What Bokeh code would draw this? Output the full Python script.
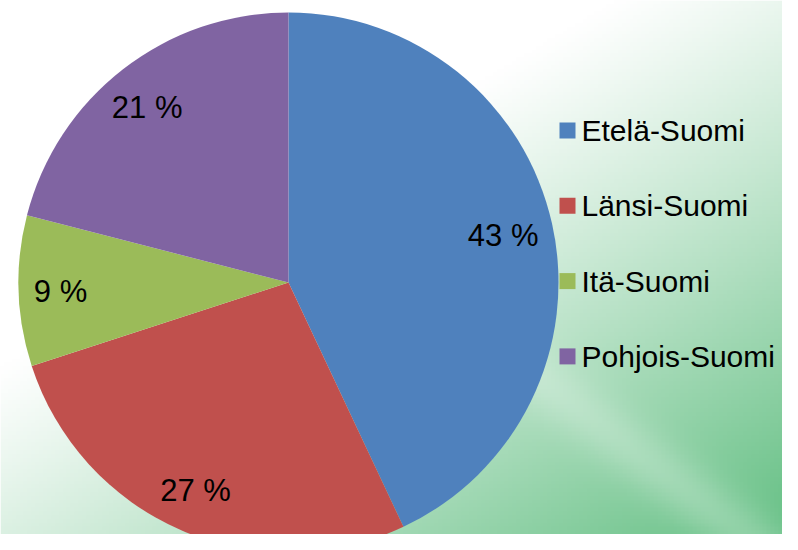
import numpy as np
from bokeh.plotting import figure
from bokeh.models import Range1d
from bokeh.core.properties import value
from bokeh.embed import file_html
from bokeh.resources import INLINE

categories = ["Etelä-Suomi", "Länsi-Suomi", "Itä-Suomi", "Pohjois-Suomi"]
shares = [43, 27, 9, 21]
labels = ["43 %", "27 %", "9 %", "21 %"]
colors = ["#4F81BD", "#C0504D", "#9BBB59", "#8064A2"]

W, H = 782, 534
p = figure(width=W, height=H, output_backend="svg", toolbar_location=None,
           x_range=Range1d(0, W), y_range=Range1d(0, H), min_border=0)
p.axis.visible = False
p.grid.visible = False
p.outline_line_color = None
p.background_fill_color = "white"
p.border_fill_color = "white"

# background gradient (decoration)
nx, ny = 200, 140
xs = np.linspace(0, 1, nx)
ys = np.linspace(0, 1, ny)  # 0 = bottom
X, Y = np.meshgrid(xs, ys)
t = X * 0.7 + (1 - Y) * 0.8 - 0.55
t = np.clip(t, 0, 1) ** 1.1
streak = np.exp(-((X - (1 - Y) * 0.9 - 0.05) ** 2) / 0.004) * 0.25
t = np.clip(t - streak * t, 0, 1)
t = np.maximum(t, np.clip((0.25 - Y) * 0.8, 0, 1) * 0.5)
g0 = np.array([255, 255, 255])
g1 = np.array([92, 188, 125])
img = np.zeros((ny, nx), dtype=np.uint32)
view = img.view(dtype=np.uint8).reshape((ny, nx, 4))
for k in range(3):
    view[:, :, k] = (g0[k] + (g1[k] - g0[k]) * t).astype(np.uint8)
view[:, :, 3] = 255
p.image_rgba(image=[img], x=0, y=0, dw=W, dh=H)

cx, cy, r = 288, H - 282, 270
total = sum(shares)
cum = np.cumsum([0] + shares[:-1]) / total
frac = np.array(shares) / total
start = np.pi / 2 - cum * 2 * np.pi
end = np.pi / 2 - (cum + frac) * 2 * np.pi
p.wedge(x=cx, y=cy, radius=r, start_angle=start, end_angle=end, direction="clock",
        fill_color=colors, line_color=None)

mid = (start + end) / 2
lr = r * 0.83
p.text(x=cx + lr * np.cos(mid) - 4, y=cy + lr * np.sin(mid) - 2, text=labels,
       text_font=value("Liberation Sans"), text_font_size="31px", text_color="black",
       text_align="center", text_baseline="middle")

# legend
ly = [H - (130 + i * 75.3) for i in range(len(categories))]
p.rect(x=[567] * 4, y=ly, width=16, height=16, fill_color=colors, line_color=None)
p.text(x=[581] * 4, y=ly, text=categories, text_font=value("Liberation Sans"),
       text_font_size="30px", text_color="black", text_align="left", text_baseline="middle")

open("out.html", "w").write(file_html(p, INLINE))
